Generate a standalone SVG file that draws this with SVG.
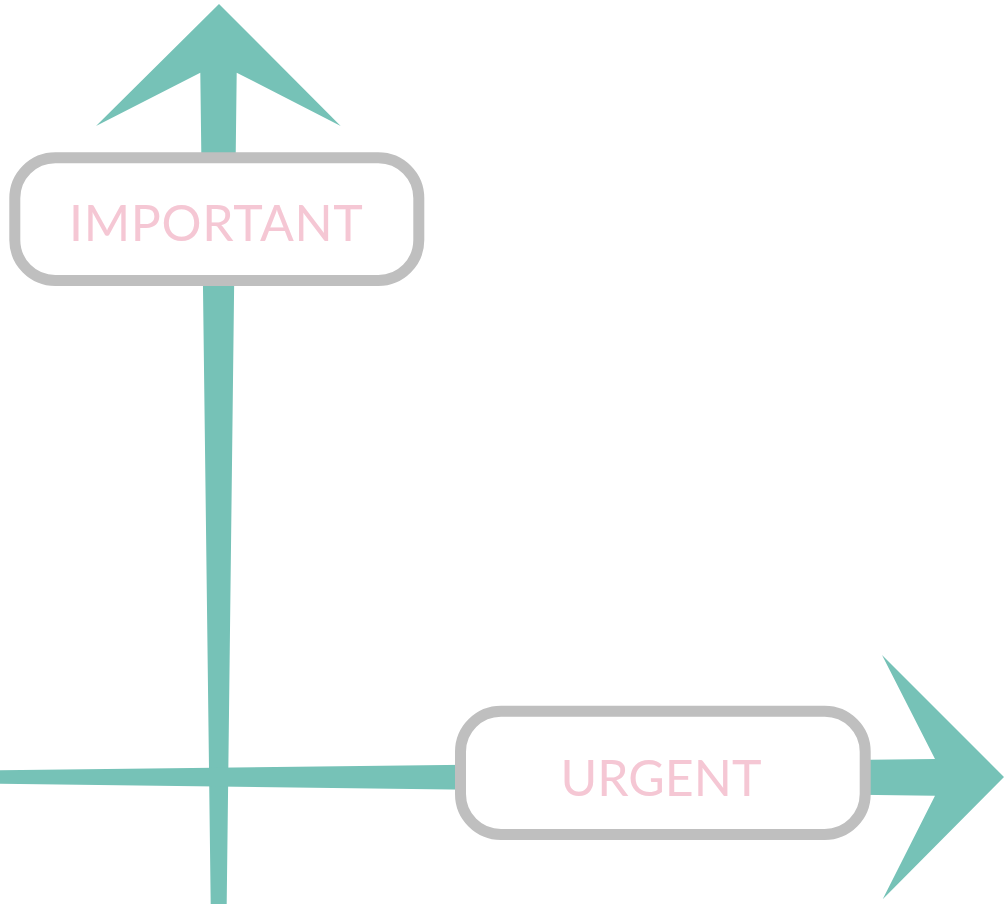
<svg xmlns="http://www.w3.org/2000/svg" width="1004" height="904" viewBox="0 0 1004 904">
  <style>
    .axis { fill: #76c2b7; }
    .box { fill: #ffffff; stroke: #bfbfbf; stroke-width: 11; }
    .label { fill: #f5c7d4; font-family: Lato, "Open Sans", sans-serif; font-size: 50px; text-anchor: middle; }
  </style>
  <rect width="1004" height="904" fill="#ffffff"/>
  <g id="connectors">
    <polygon class="axis" points="219,4 340.7,126 236.7,72.7 226.7,904 210.7,904 200.3,72.7 96,126"/>
    <polygon class="axis" points="0,770.3 935,759 882,655 1004,777 882.7,899.3 935,795.7 0,783.7"/>
  </g>
  <g id="important">
    <rect class="box" x="14.8" y="157.8" width="404" height="122.7" rx="40.5"/>
    <text class="label" x="216.3" y="240.7" letter-spacing="0.7">IMPORTANT</text>
  </g>
  <g id="urgent">
    <rect class="box" x="460.5" y="711.2" width="404.7" height="123.3" rx="40.5"/>
    <text class="label" x="661" y="796">URGENT</text>
  </g>
</svg>
